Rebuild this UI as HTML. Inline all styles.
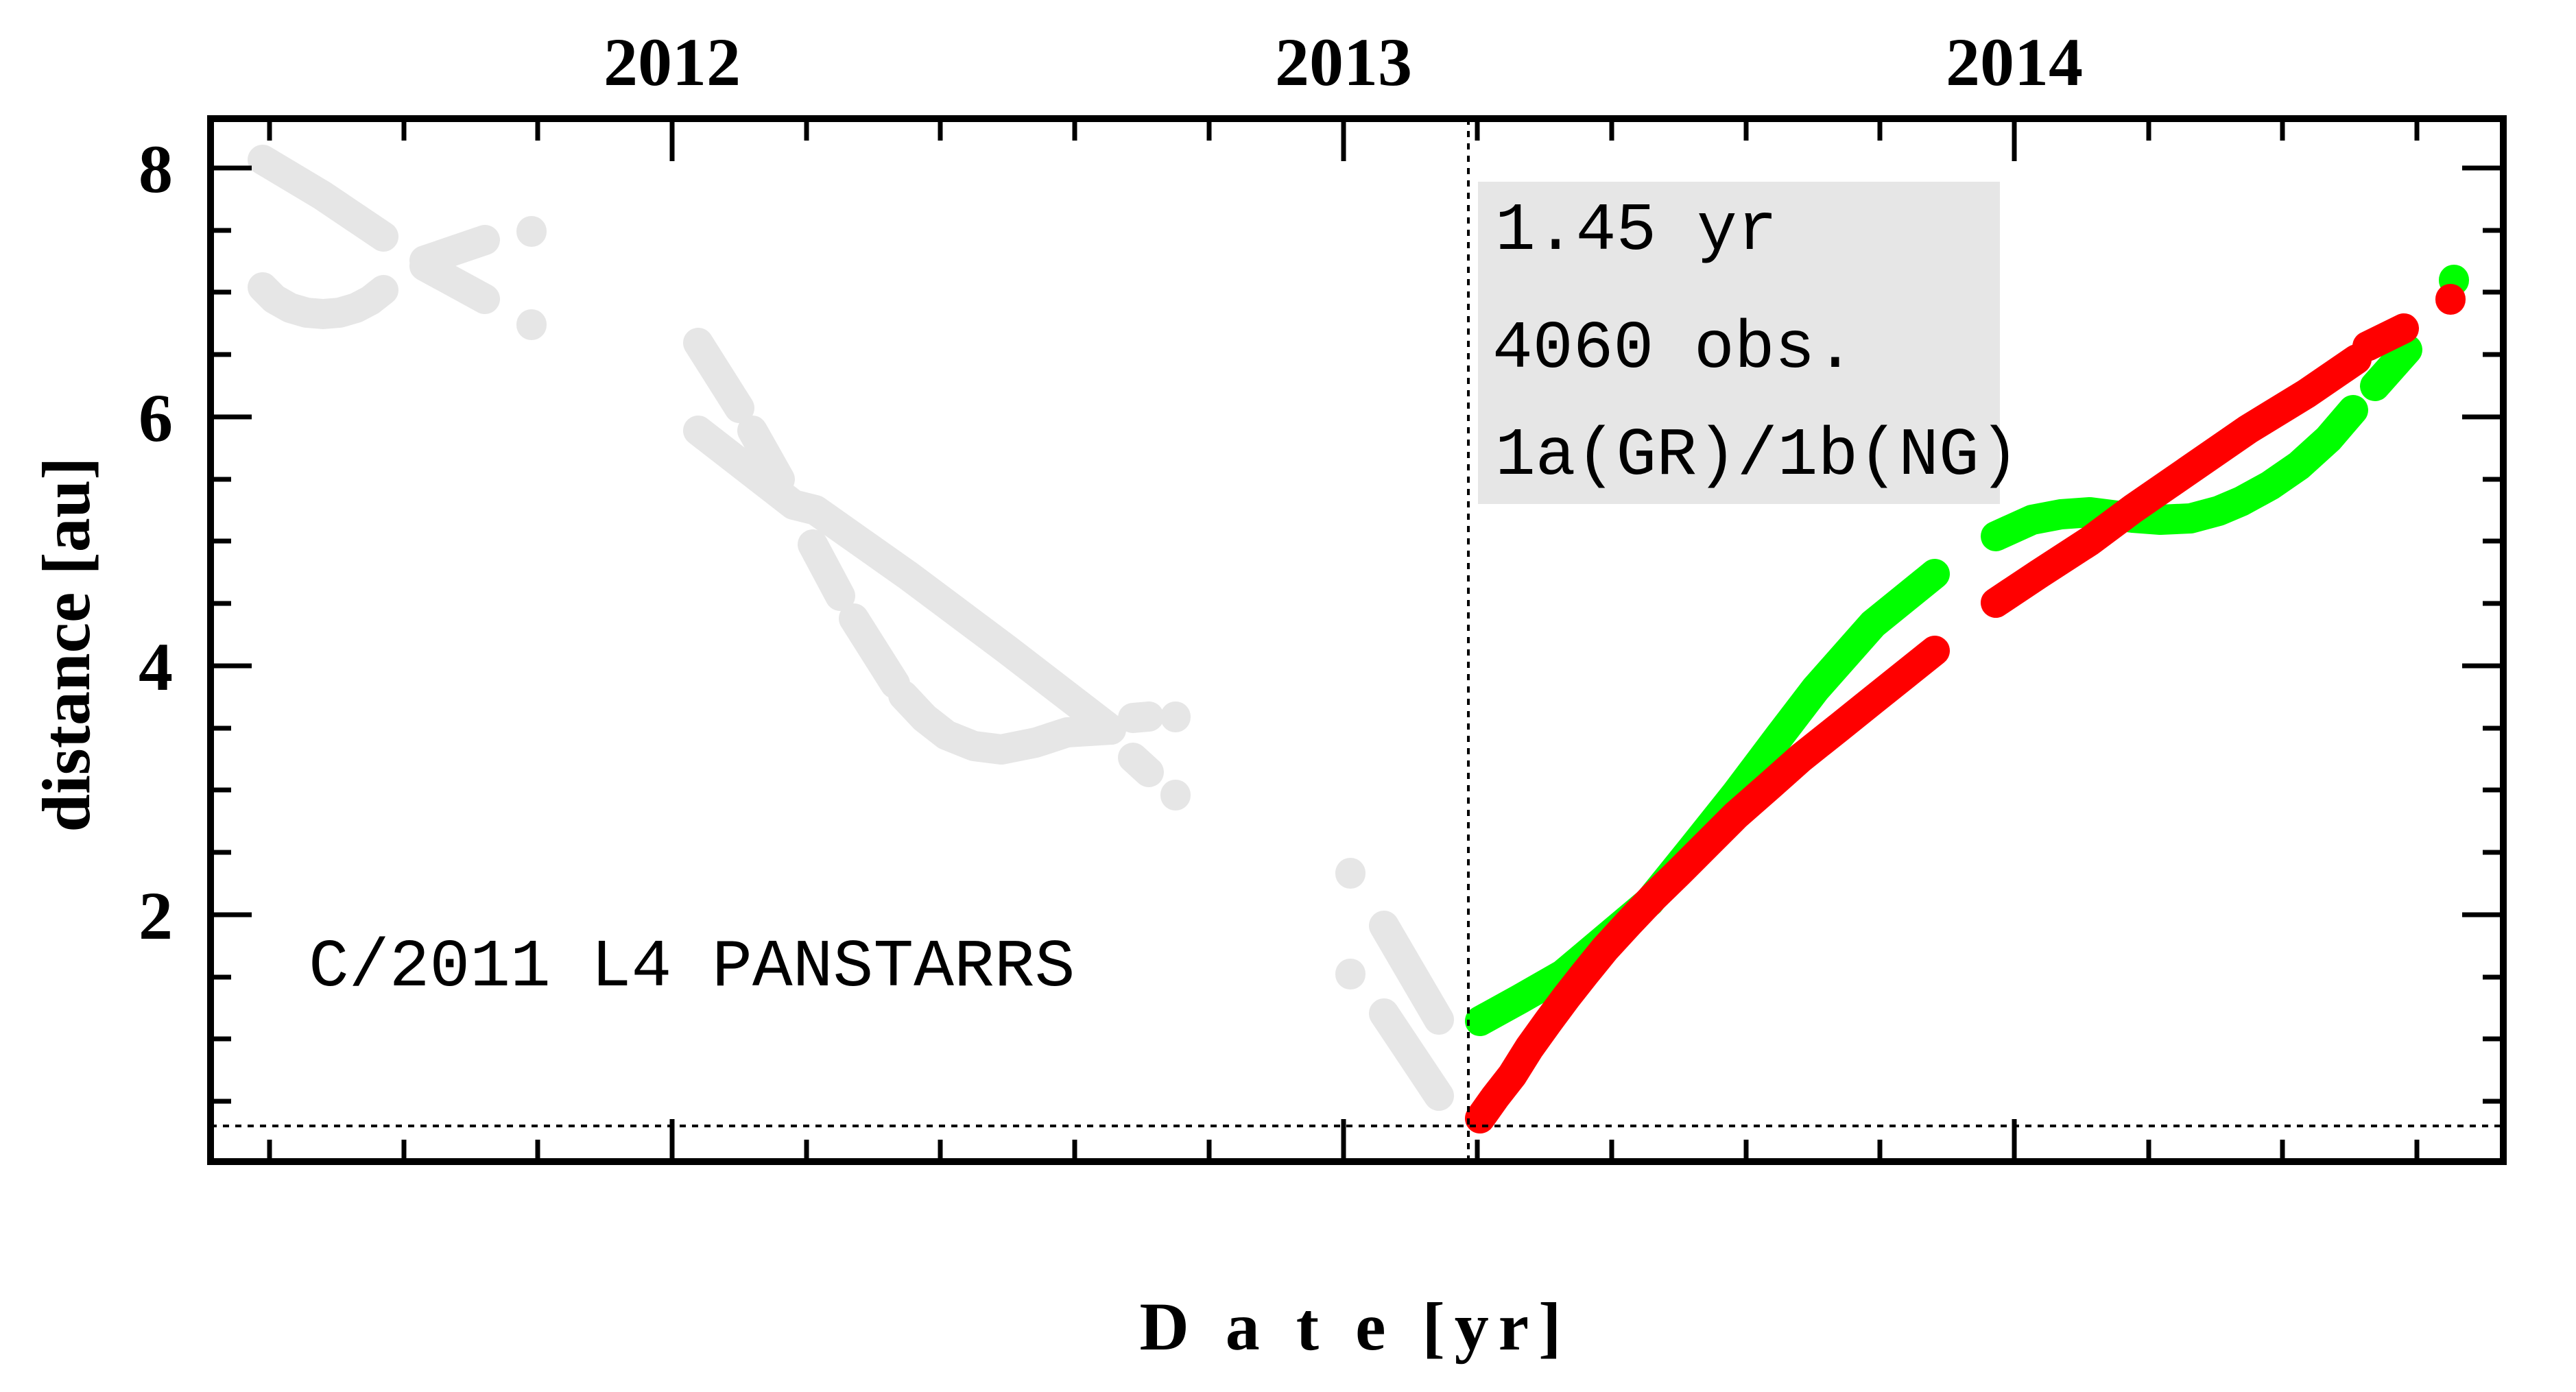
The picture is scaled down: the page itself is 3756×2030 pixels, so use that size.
<!DOCTYPE html>
<html><head><meta charset="utf-8"><style>html,body{margin:0;padding:0;background:#fff}svg{display:block}</style></head>
<body>
<svg xmlns="http://www.w3.org/2000/svg" width="3756" height="2030" viewBox="0 0 3756 2030">
<rect width="3756" height="2030" fill="#fff"/>
<rect x="2155" y="265" width="761" height="470" fill="#e6e6e6"/>
<g fill="none" stroke="#e6e6e6" stroke-width="44" stroke-linecap="round" stroke-linejoin="round">
<polyline points="383,233 470,285 559,345"/>
<polyline points="383,419 400,436 423,449 447,456 471,458 495,456 519,449 540,438 559,423"/>
<polyline points="619,380 707,350"/>
<polyline points="619,388 707,436"/>
<polyline points="775,337 775,338"/>
<polyline points="775,473 775,474"/>
<polyline points="1018,500 1078,595"/>
<polyline points="1018,628 1157,736 1189,744 1325,840 1468,947 1620,1064"/>
<polyline points="1097,628 1137,699"/>
<polyline points="1185,794 1225,869"/>
<polyline points="1245,902 1305,997"/>
<polyline points="1317,1014 1348,1047 1380,1072 1420,1088 1460,1093 1510,1083 1556,1068 1620,1064"/>
<polyline points="1652,1047 1675,1045"/>
<polyline points="1714,1045 1714,1046"/>
<polyline points="1652,1105 1675,1126"/>
<polyline points="1714,1159 1714,1160"/>
<polyline points="1969,1273 1969,1274"/>
<polyline points="1969,1420 1969,1421"/>
<polyline points="2018,1350 2098,1487"/>
<polyline points="2018,1478 2098,1598"/>
</g>
<g fill="none" stroke="#00ff00" stroke-width="44" stroke-linecap="round" stroke-linejoin="round">
<polyline points="2158,1489 2216,1457 2279,1421 2342,1368 2405,1315 2468,1237 2531,1158 2595,1073 2647,1005 2731,910 2821,837"/>
<polyline points="2910,782 2963,758 3005,750 3047,747 3110,755 3150,758 3194,756 3235,745 3268,731 3310,708 3352,679 3395,640 3431,598"/>
<polyline points="3463,563 3510,510"/>
<polyline points="3578,408 3578,409"/>
</g>
<g fill="none" stroke="#ff0000" stroke-width="44" stroke-linecap="round" stroke-linejoin="round">
<polyline points="2158,1631 2180,1600 2205,1568 2230,1528 2258,1489 2284,1454 2310,1421 2340,1384 2374,1347 2410,1309 2447,1273 2490,1230 2531,1189 2580,1146 2626,1105 2680,1062 2731,1021 2821,949"/>
<polyline points="2910,879 2973,837 3047,789 3110,742 3194,684 3278,626 3363,574 3436,524"/>
<polyline points="3452,505 3505,479"/>
<polyline points="3573,436 3573,437"/>
</g>
<g stroke="#000" stroke-width="4" stroke-dasharray="9,9">
<line x1="2141" y1="173" x2="2141" y2="1694"/>
<line x1="307" y1="1642" x2="3650" y2="1642"/>
</g>
<rect x="307" y="173" width="3343" height="1521" fill="none" stroke="#000" stroke-width="10"/>
<g stroke="#000" stroke-width="7">
<line x1="393" y1="173" x2="393" y2="205"/><line x1="393" y1="1694" x2="393" y2="1662"/>
<line x1="589" y1="173" x2="589" y2="205"/><line x1="589" y1="1694" x2="589" y2="1662"/>
<line x1="784" y1="173" x2="784" y2="205"/><line x1="784" y1="1694" x2="784" y2="1662"/>
<line x1="980" y1="173" x2="980" y2="235"/><line x1="980" y1="1694" x2="980" y2="1632"/>
<line x1="1176" y1="173" x2="1176" y2="205"/><line x1="1176" y1="1694" x2="1176" y2="1662"/>
<line x1="1371" y1="173" x2="1371" y2="205"/><line x1="1371" y1="1694" x2="1371" y2="1662"/>
<line x1="1567" y1="173" x2="1567" y2="205"/><line x1="1567" y1="1694" x2="1567" y2="1662"/>
<line x1="1959" y1="173" x2="1959" y2="235"/><line x1="1959" y1="1694" x2="1959" y2="1632"/>
<line x1="1763" y1="173" x2="1763" y2="205"/><line x1="1763" y1="1694" x2="1763" y2="1662"/>
<line x1="2154" y1="173" x2="2154" y2="205"/><line x1="2154" y1="1694" x2="2154" y2="1662"/>
<line x1="2350" y1="173" x2="2350" y2="205"/><line x1="2350" y1="1694" x2="2350" y2="1662"/>
<line x1="2546" y1="173" x2="2546" y2="205"/><line x1="2546" y1="1694" x2="2546" y2="1662"/>
<line x1="2741" y1="173" x2="2741" y2="205"/><line x1="2741" y1="1694" x2="2741" y2="1662"/>
<line x1="2937" y1="173" x2="2937" y2="235"/><line x1="2937" y1="1694" x2="2937" y2="1632"/>
<line x1="3133" y1="173" x2="3133" y2="205"/><line x1="3133" y1="1694" x2="3133" y2="1662"/>
<line x1="3328" y1="173" x2="3328" y2="205"/><line x1="3328" y1="1694" x2="3328" y2="1662"/>
<line x1="3524" y1="173" x2="3524" y2="205"/><line x1="3524" y1="1694" x2="3524" y2="1662"/>
<line x1="307" y1="245" x2="367" y2="245"/><line x1="3650" y1="245" x2="3590" y2="245"/>
<line x1="307" y1="336" x2="337" y2="336"/><line x1="3650" y1="336" x2="3620" y2="336"/>
<line x1="307" y1="426" x2="337" y2="426"/><line x1="3650" y1="426" x2="3620" y2="426"/>
<line x1="307" y1="517" x2="337" y2="517"/><line x1="3650" y1="517" x2="3620" y2="517"/>
<line x1="307" y1="608" x2="367" y2="608"/><line x1="3650" y1="608" x2="3590" y2="608"/>
<line x1="307" y1="699" x2="337" y2="699"/><line x1="3650" y1="699" x2="3620" y2="699"/>
<line x1="307" y1="789" x2="337" y2="789"/><line x1="3650" y1="789" x2="3620" y2="789"/>
<line x1="307" y1="880" x2="337" y2="880"/><line x1="3650" y1="880" x2="3620" y2="880"/>
<line x1="307" y1="971" x2="367" y2="971"/><line x1="3650" y1="971" x2="3590" y2="971"/>
<line x1="307" y1="1062" x2="337" y2="1062"/><line x1="3650" y1="1062" x2="3620" y2="1062"/>
<line x1="307" y1="1152" x2="337" y2="1152"/><line x1="3650" y1="1152" x2="3620" y2="1152"/>
<line x1="307" y1="1243" x2="337" y2="1243"/><line x1="3650" y1="1243" x2="3620" y2="1243"/>
<line x1="307" y1="1334" x2="367" y2="1334"/><line x1="3650" y1="1334" x2="3590" y2="1334"/>
<line x1="307" y1="1425" x2="337" y2="1425"/><line x1="3650" y1="1425" x2="3620" y2="1425"/>
<line x1="307" y1="1515" x2="337" y2="1515"/><line x1="3650" y1="1515" x2="3620" y2="1515"/>
<line x1="307" y1="1606" x2="337" y2="1606"/><line x1="3650" y1="1606" x2="3620" y2="1606"/>
</g>
<g font-family="'Liberation Serif', serif" font-weight="bold" font-size="100" fill="#000">
<text x="980" y="124" text-anchor="middle">2012</text>
<text x="1959" y="124" text-anchor="middle">2013</text>
<text x="2937" y="124" text-anchor="middle">2014</text>
<text x="252" y="280" text-anchor="end">8</text>
<text x="252" y="643" text-anchor="end">6</text>
<text x="252" y="1006" text-anchor="end">4</text>
<text x="252" y="1369" text-anchor="end">2</text>
<text x="1976" y="1968" text-anchor="middle" letter-spacing="14">D a t e [yr]</text>
<text transform="translate(130,940) rotate(-90)" text-anchor="middle">distance [au]</text>
</g>
<g font-family="'Liberation Mono', monospace" font-size="98" fill="#000">
<text x="2180" y="363">1.45 yr</text>
<text x="2176" y="535">4060 obs.</text>
<text x="2180" y="691">1a(GR)/1b(NG)</text>
<text x="450" y="1437">C/2011 L4 PANSTARRS</text>
</g>
</svg>
</body></html>
